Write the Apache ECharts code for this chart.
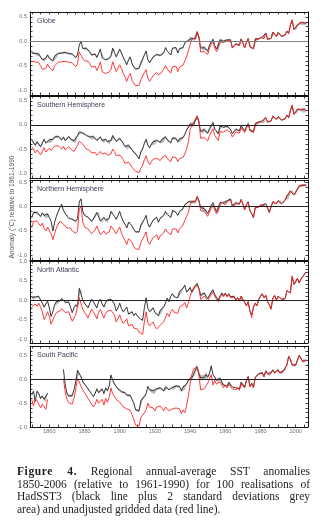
<!DOCTYPE html>
<html><head><meta charset="utf-8">
<script src="https://cdn.jsdelivr.net/npm/echarts@6/dist/echarts.min.js"></script>
<style>
html,body{margin:0;padding:0;background:#fff;}
#chart{position:absolute;left:0;top:0;width:334px;height:531px;}
#cap{position:absolute;left:17px;top:465px;width:293px;font-family:"Liberation Serif","Times New Roman",serif;font-size:11.5px;line-height:12.6px;color:#1e1e1e;}
#cap div{text-align:justify;text-align-last:justify;}
#cap div.last{text-align:left;text-align-last:left;}
#cap b{letter-spacing:0.6px;}
</style>
</head><body>
<div id="chart"></div>
<div id="cap">
<div><b>Figure 4.</b> Regional annual-average SST anomalies</div>
<div>1850-2006 (relative to 1961-1990) for 100 realisations of</div>
<div>HadSST3 (black line plus 2 standard deviations grey</div>
<div class="last">area) and unadjusted gridded data (red line).</div>
</div>
<script>
// Years 1850..2006, one value per year
const FIRST_YEAR = 1850, LAST_YEAR = 2006;
const X_LABELS = [1860,1880,1900,1920,1940,1960,1980,2000];
const Y_AXIS_TITLE = 'Anomaly (\u00B0C) relative to 1961-1990';
const REGION_NAMES = ['Globe','Southern Hemisphere','Northern Hemisphere','North Atlantic','South Pacific'];

const GLOBE_BLACK = [
-0.24,-0.23,-0.25,-0.27,-0.26,-0.30,-0.38,-0.41,-0.35,-0.28,
-0.35,-0.38,-0.40,-0.30,-0.33,-0.25,-0.23,-0.24,-0.22,-0.23,
-0.22,-0.25,-0.22,-0.26,-0.30,-0.33,-0.28,-0.08,0.00,-0.15,
-0.17,-0.14,-0.17,-0.22,-0.28,-0.27,-0.26,-0.33,-0.25,-0.16,
-0.34,-0.30,-0.38,-0.38,-0.35,-0.30,-0.14,-0.15,-0.32,-0.24,
-0.16,-0.24,-0.33,-0.40,-0.48,-0.38,-0.32,-0.46,-0.52,-0.57,
-0.56,-0.55,-0.44,-0.42,-0.28,-0.20,-0.38,-0.44,-0.38,-0.32,
-0.31,-0.27,-0.31,-0.29,-0.26,-0.24,-0.13,-0.20,-0.19,-0.28,
-0.14,-0.11,-0.13,-0.24,-0.15,-0.16,-0.13,-0.03,-0.01,0.02,
0.06,0.06,0.04,0.05,0.18,0.08,-0.14,-0.15,-0.13,-0.14,
-0.20,-0.08,-0.02,0.04,-0.09,-0.16,-0.18,0.03,0.05,0.00,
-0.01,0.03,0.01,0.03,-0.13,-0.09,-0.05,-0.05,-0.08,0.05,
-0.03,-0.13,-0.02,0.06,-0.11,-0.10,-0.15,0.05,0.02,0.05,
0.09,0.08,0.05,0.17,0.04,0.03,0.06,0.19,0.16,0.10,
0.18,0.18,0.10,0.11,0.13,0.21,0.16,0.33,0.43,0.24,
0.24,0.33,0.37,0.38,0.36,0.38,0.36];
const GLOBE_RED = [
-0.41,-0.40,-0.42,-0.45,-0.44,-0.50,-0.58,-0.62,-0.55,-0.47,
-0.54,-0.57,-0.60,-0.50,-0.52,-0.43,-0.41,-0.42,-0.40,-0.41,
-0.40,-0.43,-0.40,-0.44,-0.48,-0.52,-0.46,-0.22,-0.18,-0.35,
-0.40,-0.38,-0.41,-0.46,-0.53,-0.52,-0.51,-0.60,-0.52,-0.42,
-0.62,-0.58,-0.66,-0.66,-0.63,-0.58,-0.42,-0.44,-0.62,-0.55,
-0.48,-0.56,-0.66,-0.73,-0.82,-0.72,-0.66,-0.80,-0.86,-0.91,
-0.92,-0.90,-0.79,-0.77,-0.64,-0.58,-0.76,-0.82,-0.76,-0.70,
-0.68,-0.64,-0.69,-0.67,-0.63,-0.61,-0.50,-0.57,-0.56,-0.65,
-0.52,-0.49,-0.51,-0.62,-0.53,-0.53,-0.49,-0.40,-0.32,-0.20,
-0.06,0.04,0.05,0.07,0.20,0.10,-0.22,-0.24,-0.21,-0.22,
-0.27,-0.14,-0.07,0.00,-0.14,-0.21,-0.22,-0.01,0.02,-0.03,
-0.03,0.01,0.00,0.02,-0.14,-0.10,-0.06,-0.06,-0.09,0.04,
-0.04,-0.14,-0.03,0.05,-0.12,-0.11,-0.16,0.04,0.01,0.04,
0.09,0.08,0.05,0.17,0.04,0.03,0.06,0.19,0.16,0.10,
0.18,0.18,0.10,0.11,0.13,0.21,0.16,0.34,0.44,0.24,
0.25,0.34,0.37,0.39,0.36,0.38,0.37];
// half-width of the 2-sd grey band, one value per decade (1850s..2000s)
const GLOBE_BAND = [0.025,0.02,0.02,0.02,0.02,0.02,0.02,0.02,0.02,0.04,0.025,0.015,0.015,0.015,0.015,0.025];

const SH_BLACK = [
-0.31,-0.35,-0.42,-0.35,-0.40,-0.45,-0.38,-0.30,-0.38,-0.34,
-0.31,-0.35,-0.30,-0.25,-0.28,-0.24,-0.27,-0.31,-0.25,-0.33,
-0.30,-0.24,-0.29,-0.32,-0.33,-0.36,-0.22,-0.15,-0.14,-0.17,
-0.18,-0.22,-0.20,-0.25,-0.28,-0.24,-0.27,-0.32,-0.28,-0.25,
-0.32,-0.36,-0.30,-0.35,-0.38,-0.32,-0.22,-0.26,-0.34,-0.30,
-0.28,-0.33,-0.38,-0.45,-0.48,-0.42,-0.46,-0.52,-0.56,-0.60,
-0.62,-0.70,-0.56,-0.50,-0.38,-0.30,-0.42,-0.47,-0.40,-0.35,
-0.38,-0.32,-0.28,-0.36,-0.30,-0.34,-0.25,-0.31,-0.33,-0.37,
-0.27,-0.30,-0.28,-0.35,-0.29,-0.31,-0.26,-0.20,-0.10,-0.05,
0.02,0.03,0.00,0.10,0.16,0.06,-0.14,-0.16,-0.10,-0.12,
-0.17,-0.08,-0.04,0.05,-0.09,-0.12,-0.18,-0.02,-0.02,-0.05,
-0.04,-0.02,-0.05,-0.10,-0.18,-0.14,-0.09,-0.11,-0.12,-0.02,
-0.05,-0.12,-0.04,0.03,-0.10,-0.12,-0.14,0.03,0.02,0.06,
0.07,0.08,0.04,0.15,0.06,0.04,0.08,0.18,0.15,0.12,
0.17,0.16,0.10,0.11,0.13,0.20,0.15,0.30,0.40,0.22,
0.24,0.32,0.34,0.31,0.28,0.33,0.29];
const SH_RED = [
-0.45,-0.50,-0.58,-0.52,-0.56,-0.62,-0.55,-0.47,-0.56,-0.52,
-0.48,-0.53,-0.49,-0.44,-0.48,-0.43,-0.46,-0.50,-0.44,-0.52,
-0.50,-0.45,-0.50,-0.53,-0.55,-0.58,-0.42,-0.34,-0.36,-0.40,
-0.44,-0.50,-0.48,-0.53,-0.58,-0.54,-0.57,-0.63,-0.59,-0.55,
-0.60,-0.64,-0.58,-0.63,-0.66,-0.60,-0.50,-0.55,-0.64,-0.62,
-0.62,-0.67,-0.72,-0.80,-0.83,-0.77,-0.82,-0.88,-0.92,-0.96,
-0.98,-0.99,-0.90,-0.84,-0.72,-0.64,-0.76,-0.82,-0.76,-0.71,
-0.74,-0.69,-0.66,-0.74,-0.68,-0.72,-0.63,-0.70,-0.72,-0.76,
-0.66,-0.70,-0.68,-0.76,-0.70,-0.72,-0.67,-0.60,-0.50,-0.35,
-0.10,0.00,0.02,0.12,0.19,0.08,-0.28,-0.32,-0.26,-0.28,
-0.33,-0.22,-0.18,-0.08,-0.22,-0.26,-0.32,-0.14,-0.12,-0.15,
-0.12,-0.10,-0.12,-0.16,-0.25,-0.20,-0.14,-0.16,-0.17,-0.06,
-0.09,-0.16,-0.07,0.01,-0.12,-0.14,-0.16,0.02,0.01,0.05,
0.07,0.08,0.04,0.15,0.06,0.04,0.08,0.18,0.15,0.12,
0.17,0.16,0.10,0.11,0.13,0.20,0.15,0.31,0.41,0.22,
0.25,0.33,0.34,0.32,0.28,0.33,0.29];
const SH_BAND = [0.03,0.025,0.025,0.025,0.025,0.025,0.025,0.025,0.025,0.04,0.03,0.02,0.02,0.015,0.015,0.025];

const NH_BLACK = [
-0.23,-0.12,-0.09,-0.12,-0.16,-0.20,-0.13,-0.18,-0.22,-0.15,
-0.18,-0.30,-0.50,-0.32,-0.20,-0.10,-0.02,0.05,-0.08,-0.14,
-0.18,-0.24,-0.20,-0.26,-0.28,-0.30,-0.25,0.10,0.16,-0.10,
-0.18,-0.14,-0.22,-0.26,-0.30,-0.25,-0.22,-0.12,-0.08,-0.30,
-0.34,-0.22,-0.28,-0.32,-0.24,-0.10,-0.06,-0.20,-0.26,-0.18,
-0.10,-0.22,-0.30,-0.36,-0.44,-0.32,-0.28,-0.40,-0.47,-0.52,
-0.50,-0.52,-0.38,-0.34,-0.26,-0.18,-0.36,-0.42,-0.34,-0.28,
-0.26,-0.22,-0.32,-0.24,-0.20,-0.18,-0.10,-0.16,-0.12,-0.22,
-0.08,-0.06,-0.12,-0.18,-0.10,-0.08,-0.04,0.04,0.06,0.10,
0.12,0.10,0.12,0.10,0.20,0.12,-0.02,-0.06,-0.04,-0.08,
-0.14,-0.06,0.02,0.08,-0.02,-0.10,-0.12,0.08,0.12,0.08,
0.06,0.12,0.14,0.16,0.02,0.00,0.08,0.12,0.06,0.15,
0.06,-0.06,0.04,0.10,-0.08,-0.14,-0.22,-0.02,-0.02,0.00,
0.04,0.03,0.02,0.06,-0.02,-0.12,0.00,0.10,0.12,0.06,
0.12,0.16,0.06,0.08,0.14,0.22,0.18,0.32,0.36,0.24,
0.26,0.36,0.42,0.46,0.44,0.48,0.44];
const NH_RED = [
-0.43,-0.30,-0.28,-0.30,-0.35,-0.40,-0.34,-0.45,-0.50,-0.42,
-0.46,-0.56,-0.68,-0.55,-0.44,-0.36,-0.30,-0.28,-0.36,-0.40,
-0.44,-0.48,-0.44,-0.50,-0.52,-0.55,-0.50,-0.05,0.00,-0.32,
-0.42,-0.38,-0.46,-0.50,-0.56,-0.52,-0.48,-0.40,-0.36,-0.58,
-0.62,-0.50,-0.56,-0.60,-0.52,-0.40,-0.36,-0.50,-0.56,-0.48,
-0.42,-0.55,-0.63,-0.70,-0.78,-0.66,-0.62,-0.74,-0.82,-0.87,
-0.86,-0.88,-0.74,-0.70,-0.60,-0.52,-0.72,-0.78,-0.70,-0.64,
-0.62,-0.58,-0.68,-0.60,-0.56,-0.54,-0.46,-0.52,-0.48,-0.58,
-0.46,-0.42,-0.46,-0.54,-0.46,-0.44,-0.38,-0.28,-0.20,-0.12,
0.04,0.10,0.12,0.11,0.21,0.13,-0.08,-0.12,-0.10,-0.14,
-0.20,-0.12,-0.04,0.03,-0.07,-0.15,-0.17,0.04,0.09,0.05,
0.04,0.10,0.12,0.14,0.00,-0.02,0.06,0.10,0.05,0.14,
0.05,-0.07,0.03,0.09,-0.09,-0.15,-0.23,-0.03,-0.03,-0.01,
0.04,0.03,0.02,0.06,-0.02,-0.12,0.00,0.10,0.12,0.06,
0.12,0.16,0.06,0.08,0.14,0.22,0.18,0.33,0.37,0.24,
0.27,0.37,0.43,0.47,0.45,0.49,0.44];
const NH_BAND = [0.025,0.02,0.02,0.02,0.02,0.02,0.02,0.02,0.02,0.035,0.025,0.015,0.015,0.015,0.015,0.025];

const NA_BLACK = [
0.07,0.02,0.08,0.04,0.09,0.00,-0.08,-0.18,-0.10,-0.03,
-0.20,-0.42,-0.30,-0.12,-0.04,-0.08,-0.02,0.04,0.00,-0.06,
-0.10,-0.05,-0.18,-0.32,-0.20,-0.12,-0.18,0.30,0.35,0.00,
-0.08,-0.14,-0.20,-0.08,0.02,-0.04,-0.12,-0.20,-0.04,0.02,
-0.10,-0.18,-0.06,0.00,0.03,0.02,-0.02,-0.10,-0.28,-0.20,
-0.08,-0.22,-0.30,-0.24,-0.18,-0.36,-0.32,-0.30,-0.40,-0.34,
-0.40,-0.46,-0.44,-0.52,-0.20,0.06,-0.22,-0.30,-0.28,-0.20,
-0.32,-0.36,-0.40,-0.26,-0.30,-0.18,-0.08,0.05,-0.04,0.10,
0.16,0.08,0.12,0.06,0.22,0.18,0.30,0.38,0.20,0.26,
0.32,0.20,0.28,0.36,0.42,0.30,0.12,0.14,0.18,0.10,
0.04,0.12,0.20,0.26,0.14,0.06,0.00,0.10,0.18,0.12,
0.18,0.10,0.16,0.08,0.04,0.10,0.00,0.06,-0.02,0.10,
0.06,-0.06,-0.14,-0.04,-0.28,-0.38,-0.18,-0.08,-0.14,0.02,
0.10,0.16,0.06,0.12,-0.04,-0.12,-0.22,0.04,0.12,0.00,
0.10,0.08,0.02,-0.02,0.04,0.24,0.22,0.18,0.60,0.40,
0.42,0.55,0.44,0.54,0.60,0.66,0.72];
const NA_RED = [
-0.19,-0.14,-0.10,-0.16,-0.08,-0.18,-0.30,-0.50,-0.42,-0.30,
-0.42,-0.62,-0.58,-0.40,-0.32,-0.36,-0.28,-0.22,-0.26,-0.32,
-0.36,-0.30,-0.42,-0.54,-0.46,-0.38,-0.42,0.06,0.11,-0.24,
-0.32,-0.38,-0.46,-0.34,-0.24,-0.30,-0.38,-0.48,-0.32,-0.24,
-0.36,-0.46,-0.34,-0.28,-0.24,-0.26,-0.30,-0.38,-0.56,-0.48,
-0.38,-0.52,-0.60,-0.54,-0.48,-0.66,-0.64,-0.62,-0.72,-0.68,
-0.74,-0.82,-0.80,-0.88,-0.56,-0.30,-0.58,-0.66,-0.64,-0.56,
-0.68,-0.74,-0.78,-0.64,-0.68,-0.56,-0.46,-0.34,-0.42,-0.30,
-0.24,-0.32,-0.28,-0.34,-0.18,-0.22,-0.12,-0.06,-0.20,-0.08,
0.10,0.22,0.32,0.38,0.42,0.30,0.02,0.04,0.10,0.04,
-0.02,0.06,0.14,0.22,0.10,0.02,-0.04,0.06,0.14,0.08,
0.16,0.08,0.14,0.06,0.02,0.08,-0.02,0.05,-0.03,0.09,
0.05,-0.07,-0.15,-0.05,-0.29,-0.45,-0.19,-0.09,-0.15,0.01,
0.10,0.16,0.06,0.12,-0.04,-0.12,-0.24,0.04,0.12,0.00,
0.10,0.08,0.02,-0.02,0.04,0.24,0.22,0.18,0.62,0.40,
0.42,0.56,0.44,0.54,0.60,0.66,0.72];
const NA_BAND = [0.025,0.02,0.02,0.02,0.02,0.02,0.02,0.02,0.02,0.035,0.025,0.015,0.015,0.015,0.015,0.025];

const SP_BLACK = [
-0.32,-0.25,-0.46,-0.25,-0.30,-0.40,-0.35,-0.42,-0.46,-0.29,
null,null,null,null,null,null,null,null,0.21,-0.12,
-0.29,-0.35,-0.32,-0.34,-0.22,-0.05,0.19,0.15,0.05,-0.05,
-0.10,-0.12,-0.20,-0.26,-0.22,-0.36,-0.30,-0.20,-0.28,-0.24,
-0.20,-0.30,-0.18,-0.24,-0.14,0.09,-0.02,-0.10,-0.15,-0.20,
-0.22,-0.26,-0.30,-0.28,-0.33,-0.36,-0.34,-0.42,-0.50,-0.64,
-0.68,-0.66,-0.45,-0.42,-0.36,-0.30,-0.15,-0.22,-0.26,-0.24,
-0.28,-0.20,-0.22,-0.18,-0.20,-0.24,-0.16,-0.18,-0.22,-0.18,
-0.17,-0.20,-0.14,-0.18,-0.15,-0.24,-0.16,-0.20,-0.10,-0.02,
0.00,0.04,0.10,0.20,0.26,0.12,0.03,0.00,0.04,0.10,
0.05,0.12,0.28,0.10,0.06,-0.02,-0.04,0.02,-0.06,-0.12,
-0.08,-0.14,-0.06,-0.10,-0.16,-0.12,-0.18,-0.14,-0.20,-0.06,
-0.10,-0.16,-0.02,0.06,-0.14,-0.08,-0.16,0.04,0.08,0.12,
0.10,0.14,0.06,0.18,0.12,0.08,0.14,0.20,0.14,0.16,
0.20,0.14,0.12,0.18,0.20,0.30,0.48,0.42,0.30,0.26,
0.30,0.40,0.50,0.44,0.38,0.42,0.40];
const SP_RED = [
-0.42,-0.56,-0.40,-0.45,-0.52,-0.60,-0.52,-0.56,-0.63,-0.42,
null,null,null,null,null,null,null,null,0.02,-0.26,
-0.42,-0.49,-0.52,-0.52,-0.40,-0.20,0.02,-0.05,-0.15,-0.22,
-0.28,-0.30,-0.40,-0.46,-0.42,-0.58,-0.52,-0.42,-0.50,-0.46,
-0.42,-0.54,-0.40,-0.48,-0.38,-0.18,-0.30,-0.36,-0.42,-0.46,
-0.48,-0.52,-0.58,-0.56,-0.62,-0.66,-0.65,-0.74,-0.84,-0.96,
-0.99,-0.98,-0.80,-0.76,-0.70,-0.64,-0.50,-0.58,-0.62,-0.60,
-0.66,-0.58,-0.62,-0.56,-0.60,-0.66,-0.58,-0.62,-0.66,-0.62,
-0.62,-0.66,-0.60,-0.64,-0.62,-0.72,-0.64,-0.70,-0.55,-0.35,
-0.10,0.10,0.22,0.25,0.26,0.08,-0.22,-0.24,-0.20,-0.18,
-0.08,-0.04,0.10,-0.12,-0.02,-0.10,-0.12,-0.05,-0.12,-0.18,
-0.12,-0.18,-0.10,-0.14,-0.20,-0.16,-0.22,-0.17,-0.23,-0.09,
-0.12,-0.18,-0.04,0.04,-0.16,-0.10,-0.18,0.03,0.07,0.11,
0.09,0.13,0.05,0.17,0.11,0.07,0.13,0.19,0.13,0.15,
0.19,0.13,0.11,0.17,0.19,0.30,0.48,0.42,0.30,0.26,
0.30,0.40,0.50,0.44,0.38,0.42,0.40];
const SP_BAND = [0.03,0.025,0.025,0.025,0.025,0.025,0.025,0.025,0.025,0.055,0.035,0.02,0.02,0.02,0.02,0.03];

// ---------- layout ----------
const PANELS = [
  {black:GLOBE_BLACK, red:GLOBE_RED, band:GLOBE_BAND, min:-1.1, max:0.6,  top:12,  height:83, zero:'#808080'},
  {black:SH_BLACK,    red:SH_RED,    band:SH_BAND,    min:-1.1, max:0.6,  top:96,  height:82, zero:'#222'},
  {black:NH_BLACK,    red:NH_RED,    band:NH_BAND,    min:-1.1, max:0.55, top:180, height:80, zero:'#222'},
  {black:NA_BLACK,    red:NA_RED,    band:NA_BAND,    min:-1.1, max:1.0,  top:261, height:82, zero:'#222'},
  {black:SP_BLACK,    red:SP_RED,    band:SP_BAND,    min:-1.0, max:0.7,  top:346, height:81, zero:'#222'}
];
const CATS = [];
for (let y = FIRST_YEAR - 1; y <= LAST_YEAR + 1; y++) CATS.push(String(y));
const pad = a => [null].concat(a, [null]);
const lowerOf = p => p.black.map((v, i) => v == null ? null : +(v - p.band[Math.floor(i / 10)]).toFixed(3));
const widthOf = p => p.black.map((v, i) => v == null ? null : +(2 * p.band[Math.floor(i / 10)]).toFixed(3));
function range(lo, hi, step) {
  const out = []; const k0 = Math.ceil(lo / step - 1e-6), k1 = Math.floor(hi / step + 1e-6);
  for (let k = k0; k <= k1; k++) out.push(+(k * step).toFixed(2));
  return out;
}

const grids = [], xAxes = [], yAxes = [], series = [], graphics = [];
const AXC = '#111', LBL = '#6a6e80', FONT = 'Liberation Sans, Arial, sans-serif';
PANELS.forEach((p, i) => {
  grids.push({left: 30, width: 278, top: p.top, height: p.height});
  ['bottom', 'top'].forEach(pos => {
    xAxes.push({
      type: 'category', gridIndex: i, data: CATS, boundaryGap: false, position: pos,
      axisLine: {show: true, onZero: false, lineStyle: {color: AXC, width: 1}},
      axisTick: {show: true, inside: true, length: 2.5, lineStyle: {color: AXC, width: 0.8},
                 interval: (idx, val) => (+val) % 5 === 0},
      axisLabel: {show: pos === 'bottom' && i === PANELS.length - 1, fontSize: 5.5, color: LBL, margin: 1.5,
                  fontFamily: FONT, interval: (idx, val) => X_LABELS.indexOf(+val) >= 0},
      splitLine: {show: false}
    });
  });
  ['left', 'right'].forEach(pos => {
    yAxes.push({
      type: 'value', gridIndex: i, min: p.min, max: p.max, position: pos,
      axisLine: {show: true, onZero: false, lineStyle: {color: AXC, width: 1}},
      axisTick: {show: true, inside: true, length: 2.5, lineStyle: {color: AXC, width: 0.8},
                 customValues: range(p.min, p.max, 0.1)},
      axisLabel: {show: pos === 'left', fontSize: 5.5, color: LBL, margin: 3, fontFamily: FONT,
                  customValues: range(p.min, p.max, 0.5), formatter: v => (Math.abs(v) < 1e-9 ? 0 : v).toFixed(1)},
      splitLine: {show: false}
    });
  });
  const xi = i * 2, yi = i * 2;
  series.push({
    type: 'line', xAxisIndex: xi, yAxisIndex: yi, data: pad(lowerOf(p)), stack: 'band' + i, stackStrategy: 'all',
    symbol: 'none', silent: true, lineStyle: {opacity: 0}, z: 1,
    markLine: {silent: true, symbol: ['none', 'none'], label: {show: false},
               lineStyle: {color: p.zero, width: 1, type: 'solid'}, data: [{yAxis: 0}], animation: false}
  });
  series.push({
    type: 'line', xAxisIndex: xi, yAxisIndex: yi, data: pad(widthOf(p)), stack: 'band' + i, stackStrategy: 'all',
    symbol: 'none', silent: true, lineStyle: {opacity: 0}, areaStyle: {color: '#bdbdbd', opacity: 1}, z: 2
  });
  series.push({
    type: 'line', xAxisIndex: xi, yAxisIndex: yi, data: pad(p.black), symbol: 'none', silent: true,
    lineStyle: {color: '#2a2a2a', width: 0.9}, z: 3
  });
  series.push({
    type: 'line', xAxisIndex: xi, yAxisIndex: yi, data: pad(p.red), symbol: 'none', silent: true,
    lineStyle: {color: '#ff2525', width: 0.9}, z: 4
  });
  graphics.push({type: 'text', left: 37, top: p.top + 5.5, z: 10,
    style: {text: REGION_NAMES[i], fontSize: 7, fontFamily: FONT, fill: '#3b3d58'}});
});
graphics.push({type: 'text', x: 12.5, y: 207, rotation: Math.PI / 2, z: 10,
  style: {text: Y_AXIS_TITLE, fontSize: 6.6, fontFamily: FONT, fill: '#555a6a', align: 'center', verticalAlign: 'middle'}});

const chart = echarts.init(document.getElementById('chart'), null, {renderer: 'canvas'});
chart.setOption({
  animation: false, backgroundColor: '#fff',
  grid: grids, xAxis: xAxes, yAxis: yAxes, series: series, graphic: graphics
});
</script>
</body></html>
